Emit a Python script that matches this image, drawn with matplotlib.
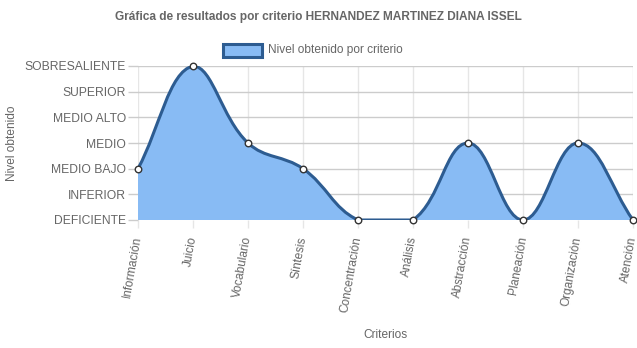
import numpy as np
import matplotlib
matplotlib.use('Agg')
import matplotlib.pyplot as plt
from matplotlib.path import Path
from matplotlib.patches import PathPatch, Rectangle

plt.rcParams['font.family'] = ['Liberation Sans', 'DejaVu Sans']

# Datos del alumno
criterios = ['Información', 'Juicio', 'Vocabulario', 'Síntesis', 'Concentración',
             'Análisis', 'Abstracción', 'Planeación', 'Organización', 'Atención']
niveles = ['DEFICIENTE', 'INFERIOR', 'MEDIO BAJO', 'MEDIO', 'MEDIO ALTO',
           'SUPERIOR', 'SOBRESALIENTE']
resultados = [2, 6, 3, 2, 0, 0, 3, 0, 3, 0]

gris = '#666666'
relleno = '#88bbf4'
linea = '#2d5c91'

W, H = 637, 348
fig = plt.figure(figsize=(W / 100, H / 100), dpi=100)
# area del grafico en pixeles
x0, x1, y0, y1 = 138, 633, 220, 66
ax = fig.add_axes([x0 / W, 1 - y0 / H, (x1 - x0) / W, (y0 - y1) / H])

xs = np.arange(len(criterios), dtype=float)
ys = np.array(resultados, dtype=float)
xmax, ymax = len(criterios) - 1, len(niveles) - 1
sx = (x1 - x0) / xmax
sy = (y0 - y1) / ymax


def controles(xs, ys, t=0.4):
    # curva tipo spline (tension 0.4) calculada en pixeles y recortada al area
    px, py = xs * sx, ys * sy
    n = len(xs)
    prev_cp, next_cp = [], []
    for i in range(n):
        p = max(i - 1, 0)
        q = min(i + 1, n - 1)
        d01 = np.hypot(px[i] - px[p], py[i] - py[p])
        d12 = np.hypot(px[q] - px[i], py[q] - py[i])
        tot = d01 + d12
        s01 = d01 / tot if tot else 0
        s12 = d12 / tot if tot else 0
        fa, fb = t * s01, t * s12
        dx, dy = px[q] - px[p], py[q] - py[p]
        c1 = (px[i] - fa * dx, py[i] - fa * dy)
        c2 = (px[i] + fb * dx, py[i] + fb * dy)
        c1 = (np.clip(c1[0], 0, xmax * sx) / sx, np.clip(c1[1], 0, ymax * sy) / sy)
        c2 = (np.clip(c2[0], 0, xmax * sx) / sx, np.clip(c2[1], 0, ymax * sy) / sy)
        prev_cp.append(c1)
        next_cp.append(c2)
    return prev_cp, next_cp


prev_cp, next_cp = controles(xs, ys)
verts = [(xs[0], ys[0])]
codes = [Path.MOVETO]
for i in range(len(xs) - 1):
    verts += [next_cp[i], prev_cp[i + 1], (xs[i + 1], ys[i + 1])]
    codes += [Path.CURVE4] * 3

area = Path(verts + [(xs[-1], 0), (xs[0], 0), (xs[0], ys[0])],
            codes + [Path.LINETO, Path.LINETO, Path.CLOSEPOLY])
ax.add_patch(PathPatch(area, facecolor=relleno, edgecolor='none', zorder=2))
ax.add_patch(PathPatch(Path(verts, codes), facecolor='none', edgecolor=linea,
                       linewidth=2.2, zorder=3, capstyle='round'))
ax.scatter(xs, ys, s=22, facecolor='white', edgecolor='#333333', linewidth=1.0,
           zorder=4, clip_on=False)

ax.set_xlim(0, xmax)
ax.set_ylim(0, ymax)
ax.set_yticks(range(len(niveles)))
ax.set_yticklabels(niveles, fontsize=8.7, color=gris)
ax.set_xticks(xs)
ax.set_xticklabels(criterios, fontsize=8.6, color=gris, rotation=80,
                   ha='right', va='center', rotation_mode='anchor')
ax.tick_params(axis='y', length=7, width=1, color='#cccccc', pad=1.5)
ax.tick_params(axis='x', length=6, width=1, color='#e6e6e6', pad=6)
ax.yaxis.grid(True, color='#cccccc', linewidth=1, zorder=0)
ax.xaxis.grid(True, color='#e6e6e6', linewidth=1, zorder=0)
ax.set_axisbelow(True)
for s in ax.spines.values():
    s.set_visible(False)

fig.text(318.5 / W, 1 - 17 / H,
         'Gráfica de resultados por criterio HERNANDEZ MARTINEZ DIANA ISSEL',
         ha='center', va='center', fontsize=8.6, fontweight='bold', color=gris)
fig.add_artist(Rectangle((223 / W, 1 - 57 / H), 39 / W, 13 / H,
                         transform=fig.transFigure, facecolor=relleno,
                         edgecolor=linea, linewidth=2.2))
fig.text(268 / W, 1 - 50 / H, 'Nivel obtenido por criterio', ha='left',
         va='center', fontsize=8.6, color=gris)
fig.text(12 / W, 1 - 143 / H, 'Nivel obtenido', rotation=90, ha='center',
         va='center', fontsize=8.6, color=gris)
fig.text(385.5 / W, 1 - 335 / H, 'Criterios', ha='center', va='center',
         fontsize=8.6, color=gris)

fig.savefig('out.png', dpi=100)
